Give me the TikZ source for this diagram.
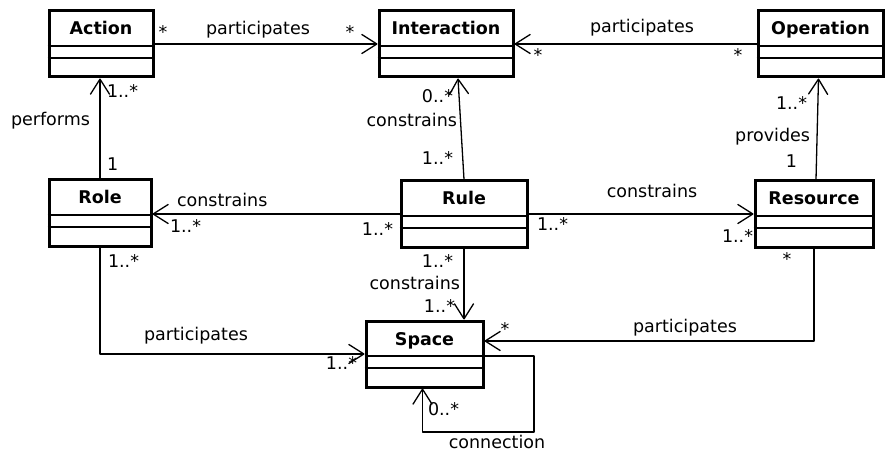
\documentclass[tikz,border=0pt]{standalone}
\usepackage{fontspec}
\setmainfont{DejaVu Sans}
\usetikzlibrary{arrows.meta}

\begin{document}
\begin{tikzpicture}[x=1pt,y=1pt,
  classbox/.style={draw=drawColor,line width=3pt,fill=fillColor,minimum height=66pt,inner sep=0pt},
  classname/.style={text=drawColor,anchor=base,inner sep=0pt,outer sep=0pt,font=\fontsize{17.5}{20}\selectfont\bfseries},
  divider/.style={draw=drawColor,line width=1.3pt},
  assoc/.style={draw=drawColor,line width=1.3pt,line join=round,-{Straight Barb[length=15pt,width=19pt,round]}},
  lbl/.style={text=drawColor,inner sep=0pt,outer sep=0pt,font=\fontsize{17.5}{20}\selectfont}]
\definecolor[named]{fillColor}{rgb}{1.00,1.00,1.00}
\definecolor[named]{drawColor}{rgb}{0.00,0.00,0.00}
\path[use as bounding box,fill=fillColor] (0,0) rectangle (885,453);

\begin{scope}
\node[classbox,minimum width=104pt] (action) at (101,409) {};
\node[classname] (actionname) at ([yshift=-25.5pt]action.north) {Action};
\path[divider] ([yshift=-36.5pt]action.north west) -- ([yshift=-36.5pt]action.north east);
\path[divider] ([yshift=-48.5pt]action.north west) -- ([yshift=-48.5pt]action.north east);

\node[classbox,minimum width=134pt] (interaction) at (446,409) {};
\node[classname] (interactionname) at ([yshift=-25.5pt]interaction.north) {Interaction};
\path[divider] ([yshift=-36.5pt]interaction.north west) -- ([yshift=-36.5pt]interaction.north east);
\path[divider] ([yshift=-48.5pt]interaction.north west) -- ([yshift=-48.5pt]interaction.north east);

\node[classbox,minimum width=125pt] (operation) at (820.5,409) {};
\node[classname] (operationname) at ([yshift=-25.5pt]operation.north) {Operation};
\path[divider] ([yshift=-36.5pt]operation.north west) -- ([yshift=-36.5pt]operation.north east);
\path[divider] ([yshift=-48.5pt]operation.north west) -- ([yshift=-48.5pt]operation.north east);

\node[classbox,minimum width=102pt] (role) at (100,240) {};
\node[classname] (rolename) at ([yshift=-25.5pt]role.north) {Role};
\path[divider] ([yshift=-36.5pt]role.north west) -- ([yshift=-36.5pt]role.north east);
\path[divider] ([yshift=-48.5pt]role.north west) -- ([yshift=-48.5pt]role.north east);

\node[classbox,minimum width=126pt] (rule) at (464,239) {};
\node[classname] (rulename) at ([yshift=-25.5pt]rule.north) {Rule};
\path[divider] ([yshift=-36.5pt]rule.north west) -- ([yshift=-36.5pt]rule.north east);
\path[divider] ([yshift=-48.5pt]rule.north west) -- ([yshift=-48.5pt]rule.north east);

\node[classbox,minimum width=118pt] (resource) at (814,239) {};
\node[classname] (resourcename) at ([yshift=-25.5pt]resource.north) {Resource};
\path[divider] ([yshift=-36.5pt]resource.north west) -- ([yshift=-36.5pt]resource.north east);
\path[divider] ([yshift=-48.5pt]resource.north west) -- ([yshift=-48.5pt]resource.north east);

\node[classbox,minimum width=117pt] (space) at (424.5,99) {};
\node[classname] (spacename) at ([yshift=-25.5pt]space.north) {Space};
\path[divider] ([yshift=-36.5pt]space.north west) -- ([yshift=-36.5pt]space.north east);
\path[divider] ([yshift=-48.5pt]space.north west) -- ([yshift=-48.5pt]space.north east);
\end{scope}

\begin{scope}
\path[assoc] (action) -- (interaction);
\path[assoc] (operation) -- (interaction);
\path[assoc] (role.north) -- (role.north |- action.south);
\path[assoc] (rule.north) -- ([xshift=12pt]interaction.south);
\path[assoc] ([xshift=2pt]resource.north) -- ([xshift=-2pt]operation.south);
\path[assoc] (rule.west) -- (rule.west -| role.east);
\path[assoc] (rule.east) -- (rule.east -| resource.west);
\path[assoc] (rule.south) -- (rule.south |- space.north);
\path[assoc] (role.south) |- (space.west);
\path[assoc] (resource.south) |- ([yshift=13pt]space.east);
\coordinate (loopcorner) at (534,21);
\path[assoc] ([yshift=-2pt]space.east) -| (loopcorner) -| ([xshift=-2pt]space.south);
\end{scope}

\begin{scope}
\node[lbl,anchor=base] (ai1) at (163,414) {*};
\node[lbl,anchor=base] (ai2) at (258,418) {participates};
\node[lbl,anchor=base] (ai3) at (350,414) {*};

\node[lbl,anchor=base] (oi1) at (538,391) {*};
\node[lbl,anchor=base] (oi2) at (642,420) {participates};
\node[lbl,anchor=base] (oi3) at (738,391) {*};

\node[lbl,anchor=base west] (ra1) at (107,355) {1..*};
\node[lbl,anchor=base east] (ra2) at (90,327) {performs};
\node[lbl,anchor=base west] (ra3) at (107,282) {1};

\node[lbl,anchor=base east] (ri1) at (453,350) {0..*};
\node[lbl,anchor=base east] (ri2) at (457,326) {constrains};
\node[lbl,anchor=base east] (ri3) at (453,288) {1..*};

\node[lbl,anchor=base east] (ro1) at (807,343) {1..*};
\node[lbl,anchor=base east] (ro2) at (810,311) {provides};
\node[lbl,anchor=base east] (ro3) at (797,285) {1};

\node[lbl,anchor=base west] (rr1) at (177,247) {constrains};
\node[lbl,anchor=base west] (rr2) at (170,221) {1..*};
\node[lbl,anchor=base east] (rr3) at (393,218) {1..*};

\node[lbl,anchor=base] (rs1) at (652,255) {constrains};
\node[lbl,anchor=base west] (rs2) at (537,223) {1..*};
\node[lbl,anchor=base east] (rs3) at (753,211) {1..*};

\node[lbl,anchor=base east] (rp1) at (453,186) {1..*};
\node[lbl,anchor=base east] (rp2) at (460,164) {constrains};
\node[lbl,anchor=base east] (rp3) at (455,141) {1..*};

\node[lbl,anchor=base west] (sp1) at (108,186) {1..*};
\node[lbl,anchor=base] (sp2) at (196,113) {participates};
\node[lbl,anchor=base east] (sp3) at (357,84) {1..*};

\node[lbl,anchor=base] (es1) at (787,188) {*};
\node[lbl,anchor=base] (es2) at (685,121) {participates};
\node[lbl,anchor=base] (es3) at (505,118) {*};

\node[lbl,anchor=base west] (ss1) at (428,38) {0..*};
\node[lbl,anchor=base] (ss2) at (497,5) {connection};
\end{scope}
\end{tikzpicture}
\end{document}
